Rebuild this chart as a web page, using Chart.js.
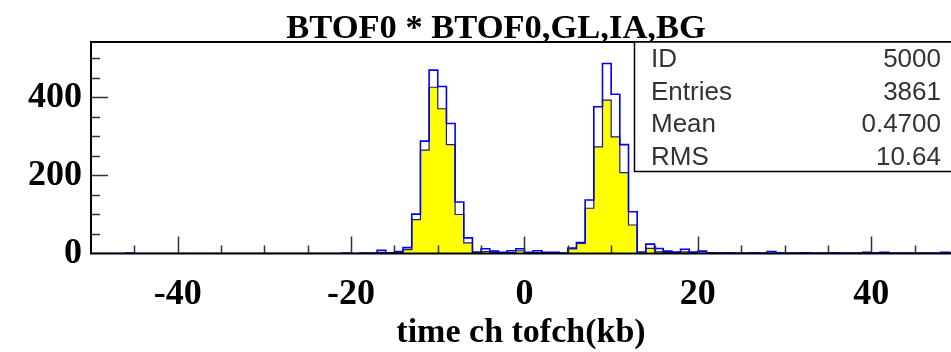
<!DOCTYPE html>
<html>
<head>
<meta charset="utf-8">
<script src="https://cdn.jsdelivr.net/npm/chart.js@4.4.1/dist/chart.umd.min.js"></script>
<style>
  html, body { margin: 0; padding: 0; background: #fff; }
  #wrap { width: 951px; height: 352px; }
</style>
</head>
<body>
<div id="wrap"><canvas id="histo"></canvas></div>
<script>
// histogram 5000, bins of width 1 starting at -50
const binStart = -50;
const binWidth = 1;
const blueCounts = [
  0, 0, 0, 0, 1, 0, 0, 0, 0, 0,          // -50 .. -41
  0, 0, 0, 0, 0, 0, 0, 0, 0, 0,          // -40 .. -31
  0, 0, 0, 0, 0, 0, 0, 0, 0, 1,          // -30 .. -21
  0, 1, 1, 8, 2, 5, 15, 101, 288, 470,   // -20 .. -11
  428, 333, 132, 40, 4, 12, 6, 3, 7, 12, // -10 .. -1
  3, 7, 3, 3, 1, 14, 28, 137, 376, 487,  //   0 .. 9
  408, 279, 107, 4, 24, 13, 6, 4, 11, 4, //  10 .. 19
  6, 2, 1, 2, 1, 1, 2, 1, 5, 2,          //  20 .. 29
  1, 1, 2, 1, 1, 2, 1, 1, 1, 3,          //  30 .. 39
  2, 3, 1, 1, 1, 1, 1, 1, 3, 2           //  40 .. 49
];
const yellowCounts = [
  0, 0, 0, 0, 0, 0, 0, 0, 0, 0,
  0, 0, 0, 0, 0, 0, 0, 0, 0, 0,
  0, 0, 0, 0, 0, 0, 0, 0, 0, 0,
  0, 0, 0, 2, 1, 2, 10, 87, 265, 426,
  371, 279, 100, 27, 1, 5, 3, 2, 2, 7,
  1, 2, 1, 1, 0, 12, 26, 116, 273, 393,
  299, 207, 73, 0, 13, 4, 2, 2, 4, 2,
  1, 0, 0, 1, 0, 0, 1, 0, 1, 0,
  0, 0, 1, 0, 0, 1, 0, 0, 0, 1,
  1, 1, 0, 0, 0, 0, 0, 0, 2, 2
];
const xTicks = [-40, -20, 0, 20, 40];
const xMinorTicks = [-45, -40, -35, -30, -25, -20, -15, -10, -5, 0, 5, 10, 15, 20, 25, 30, 35, 40, 45];
const yTicks = [0, 200, 400];
const yMinorTicks = [50, 100, 150, 200, 250, 300, 350, 400, 450, 500];
const statLabels = ['ID', 'Entries', 'Mean', 'RMS'];
const statValues = ['5000', '3861', '0.4700', '10.64'];
const titleText = 'BTOF0 * BTOF0,GL,IA,BG';
const xTitle = 'time ch tofch(kb)';

const serifFamily = "'Liberation Serif', 'Times New Roman', serif";
const tickFont = { family: serifFamily, size: 36, weight: 'bold' };
const titleFont = { family: serifFamily, size: 34, weight: 'bold' };

function stepPoints(counts) {
    let pts = [];
    for (let i = 0; i < counts.length; i++)
	pts.push({ x: binStart + i * binWidth, y: counts[i] });
    pts.push({ x: binStart + counts.length * binWidth, y: counts[counts.length - 1] });
    return pts;
}

const pawDecor = {
    id: 'pawDecor',
    afterDraw(chart) {
	const ctx = chart.ctx;
	const a = chart.chartArea;
	const xs = chart.scales.x;
	const ys = chart.scales.y;
	ctx.save();
	// tick marks, pointing inward
	ctx.strokeStyle = '#333';
	ctx.lineWidth = 1.5;
	ctx.beginPath();
	yMinorTicks.forEach(v => {
	    const y = Math.round(ys.getPixelForValue(v)) + 0.5;
	    const len = yTicks.includes(v) ? 17 : 9;
	    ctx.moveTo(a.left, y);
	    ctx.lineTo(a.left + len, y);
	});
	xMinorTicks.forEach(v => {
	    const x = Math.round(xs.getPixelForValue(v)) + 0.5;
	    const len = xTicks.includes(v) ? 17 : 8;
	    ctx.moveTo(x, a.bottom);
	    ctx.lineTo(x, a.bottom - len);
	});
	ctx.stroke();
	// frame
	ctx.strokeStyle = '#000';
	ctx.lineWidth = 2;
	ctx.strokeRect(a.left, a.top, a.right - a.left + 10, a.bottom - a.top);
	// title
	ctx.fillStyle = '#000';
	ctx.font = "bold 34.5px 'Liberation Serif', serif";
	ctx.textAlign = 'center';
	ctx.textBaseline = 'alphabetic';
	ctx.fillText(titleText, 496, 38);
	// stats box
	ctx.fillStyle = '#fff';
	ctx.fillRect(634, a.top, 330, 130);
	ctx.lineWidth = 1.5;
	ctx.strokeRect(634.5, a.top, 330, 129.5);
	ctx.fillStyle = '#333';
	ctx.font = "26px 'Liberation Sans', sans-serif";
	for (let i = 0; i < statLabels.length; i++) {
	    const by = 67 + i * 32.5;
	    ctx.textAlign = 'left';
	    ctx.fillText(statLabels[i], 651, by);
	    ctx.textAlign = 'right';
	    ctx.fillText(statValues[i], 941, by);
	}
	ctx.restore();
    }
};

const histoConfig = {
    type: 'line',
    data: {
	datasets: [{
	    label: 'all',
	    data: stepPoints(blueCounts),
	    stepped: 'before',
	    borderColor: '#0000f0',
	    borderWidth: 1.6,
	    pointRadius: 0,
	    fill: false
	}, {
	    label: 'GL,IA,BG',
	    data: stepPoints(yellowCounts),
	    stepped: 'before',
	    borderColor: '#1a1a80',
	    borderWidth: 1.2,
	    backgroundColor: '#ffff00',
	    pointRadius: 0,
	    fill: 'origin'
	}]
    },
    options: {
	responsive: false,
	animation: false,
	layout: { padding: { top: 42, left: 0, right: 0, bottom: 0 } },
	plugins: {
	    legend: { display: false },
	    tooltip: { enabled: false },
	    title: { display: false }
	},
	scales: {
	    x: {
		type: 'linear',
		min: -50,
		max: 49.2,
		afterBuildTicks: s => { s.ticks = xTicks.map(v => ({ value: v })); },
		afterFit: s => { s.height = 98.5; },
		grid: { display: false, drawTicks: false },
		border: { display: false },
		ticks: { font: tickFont, color: '#000', padding: 20, maxRotation: 0, autoSkip: false },
		title: { display: true, text: xTitle, font: titleFont, color: '#000', padding: { top: 0, bottom: -2 } }
	    },
	    y: {
		min: 0,
		max: 542,
		afterBuildTicks: s => { s.ticks = yTicks.map(v => ({ value: v })); },
		afterFit: s => { s.width = 91; },
		grid: { display: false, drawTicks: false },
		border: { display: false },
		ticks: { font: tickFont, color: '#000', padding: 9 }
	    }
	}
    },
    plugins: [pawDecor]
};

const cv = document.getElementById('histo');
cv.width = 951;
cv.height = 352;
let histoChart = 0;
if (cv)
    histoChart = new Chart(cv.getContext('2d'), histoConfig);
</script>
</body>
</html>
